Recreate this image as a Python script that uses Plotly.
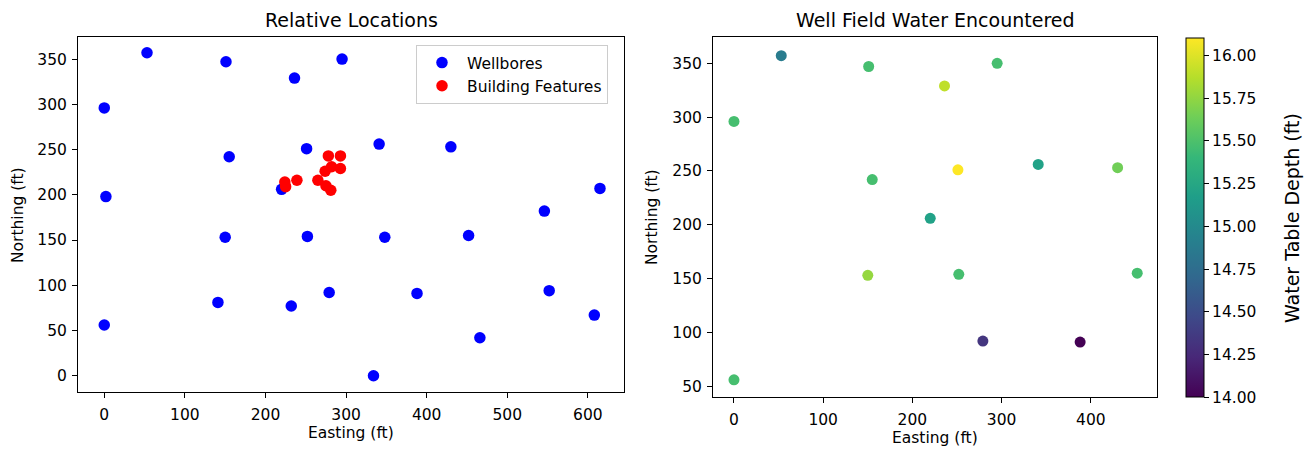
import plotly.graph_objects as go

W, H = 1310, 451

# ---- data ----
well_easting = [53, 151, 236, 0, 155, 251, 2, 220, 150, 252, 0, 141, 232, 279, 295, 341, 430, 615, 546, 348, 452, 388, 552, 608, 466, 334]
well_northing = [357, 347, 329, 296, 242, 251, 198, 206, 153, 154, 56, 81, 77, 92, 350, 256, 253, 207, 182, 153, 155, 91, 94, 67, 42, 0]
water_depth = [14.88, 15.47, 15.9, 15.47, 15.47, 16.1, None, 15.2, 15.76, 15.47, 15.47, None, None, 14.33, 15.47, 15.2, 15.64, None, None, None, 15.47, 14.0, None, None, None, None]

bldg_easting = [224, 225, 239, 265, 278, 293, 274, 282, 293, 275, 281]
bldg_northing = [214, 209, 216, 216, 243, 243, 226, 231, 229, 210, 205]

x_ticks_left = [0, 100, 200, 300, 400, 500, 600]
y_ticks_left = [0, 50, 100, 150, 200, 250, 300, 350]
x_ticks_right = [0, 100, 200, 300, 400]
y_ticks_right = [50, 100, 150, 200, 250, 300, 350]
cbar_ticks = [14.0, 14.25, 14.5, 14.75, 15.0, 15.25, 15.5, 15.75, 16.0]

# subset with water encountered
wx = [e for e, d in zip(well_easting, water_depth) if d is not None]
wy = [n for n, d in zip(well_northing, water_depth) if d is not None]
wd = [d for d in water_depth if d is not None]


def px(x):
    return x / W


def py(y):
    return (H - y) / H


FONT = "DejaVu Sans"
TICK = 15.5

fig = go.Figure()
fig.add_trace(go.Scatter(x=well_easting, y=well_northing, mode="markers", name="Wellbores",
                         legendgroup="a",
                         marker=dict(color="#0000ff", size=11.5), xaxis="x", yaxis="y"))
fig.add_trace(go.Scatter(x=bldg_easting, y=bldg_northing, mode="markers", name="Building Features",
                         legendgroup="b",
                         marker=dict(color="#ff0000", size=11.5), xaxis="x", yaxis="y"))
fig.add_trace(go.Scatter(x=wx, y=wy, mode="markers", showlegend=False,
                         marker=dict(color=wd, colorscale="Viridis", cmin=min(wd), cmax=max(wd), size=11,
                                     colorbar=dict(x=px(1185.7), xanchor="left", xpad=0, ypad=0,
                                                   thickness=17.6, lenmode="pixels", len=359,
                                                   y=py(217.8), yanchor="middle",
                                                   outlinecolor="black", outlinewidth=1,
                                                   tickvals=cbar_ticks, tickformat=".2f",
                                                   ticks="outside", ticklen=5, tickcolor="black",
                                                   tickfont=dict(size=TICK, color="black", family=FONT))),
                         xaxis="x2", yaxis="y2"))

axis_common = dict(showline=True, mirror=True, linecolor="black", linewidth=1, ticks="outside",
                   ticklen=5, tickcolor="black", showgrid=False, zeroline=False,
                   tickfont=dict(size=TICK, color="black", family=FONT), automargin=False)

fig.update_layout(
    width=W, height=H,
    margin=dict(l=0, r=0, t=0, b=0),
    paper_bgcolor="white", plot_bgcolor="white",
    font=dict(family=FONT, color="black"),
    xaxis=dict(domain=[px(78), px(624)], range=[-32.6, 644.8], tickvals=x_ticks_left, anchor="y",
               ticklabelstandoff=3, **axis_common),
    yaxis=dict(domain=[py(392), py(37)], range=[-18, 374.4], tickvals=y_ticks_left, anchor="x",
               ticklabelstandoff=2, **axis_common),
    xaxis2=dict(domain=[px(713), px(1157.3)], range=[-23.5, 474.5], tickvals=x_ticks_right, anchor="y2",
                ticklabelstandoff=3, **axis_common),
    yaxis2=dict(domain=[py(397), py(37)], range=[40, 374.4], tickvals=y_ticks_right, anchor="x2",
                ticklabelstandoff=2, **axis_common),
    legend=dict(x=px(416), y=py(45), xanchor="left", yanchor="top", bgcolor="white",
                bordercolor="#cccccc", borderwidth=1, tracegroupgap=0, itemwidth=40,
                font=dict(size=TICK, family=FONT, color="black")),
    showlegend=True,
)

annots = [
    dict(text="Relative Locations", x=px(351), y=py(20), size=19),
    dict(text="Well Field Water Encountered", x=px(935), y=py(20), size=19),
    dict(text="Easting (ft)", x=px(351), y=py(433), size=TICK),
    dict(text="Easting (ft)", x=px(935), y=py(438), size=TICK),
    dict(text="Northing (ft)", x=px(18), y=py(215), size=TICK, angle=-90),
    dict(text="Northing (ft)", x=px(652), y=py(217), size=TICK, angle=-90),
    dict(text="Water Table Depth (ft)", x=px(1292), y=py(218), size=19, angle=-90),
]
for a in annots:
    fig.add_annotation(text=a["text"], x=a["x"], y=a["y"], xref="paper", yref="paper",
                       xanchor="center", yanchor="middle", showarrow=False,
                       textangle=a.get("angle", 0),
                       font=dict(size=a["size"], family=FONT, color="black"))

fig.write_html("out.html", config={"displayModeBar": False},
               post_script="document.body.style.margin='0';")
